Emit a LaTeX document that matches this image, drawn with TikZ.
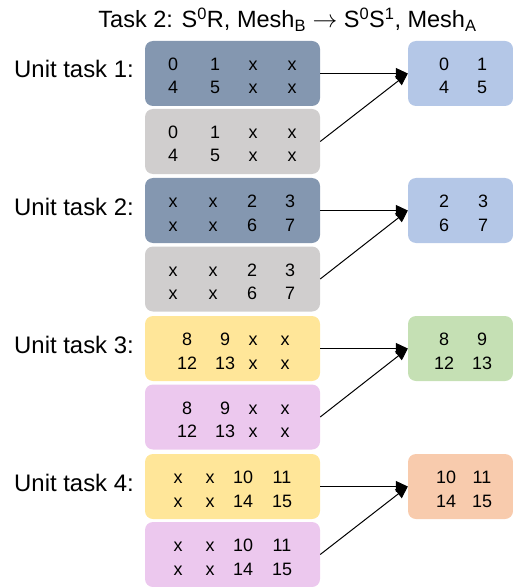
\documentclass[tikz,border=0pt]{standalone}
\usepackage{fontspec}
\setmainfont{Liberation Sans}
\usetikzlibrary{arrows.meta}
\definecolor{cdark}{HTML}{8497B0}
\definecolor{cgray}{HTML}{D0CECE}
\definecolor{clblue}{HTML}{B4C7E7}
\definecolor{cyellow}{HTML}{FFE699}
\definecolor{cpink}{HTML}{ECC8EE}
\definecolor{cgreen}{HTML}{C5E0B4}
\definecolor{corange}{HTML}{F8CBAD}
\tikzset{
  leftbox/.style={rounded corners=8bp, inner sep=0, minimum width=175bp, minimum height=65bp},
  rightbox/.style={rounded corners=8bp, inner sep=0, minimum width=105bp, minimum height=65bp},
  num/.style={anchor=base, inner sep=0, font=\fontsize{18}{20}\selectfont},
  lab/.style={anchor=base west, inner sep=0, font=\fontsize{24}{28}\selectfont},
  ttl/.style={anchor=base, inner sep=0, font=\fontsize{23.6}{27}\selectfont},
  conn/.style={-{Triangle[length=12bp,width=11bp]}, line width=1bp, black},
}
\begin{document}
\begin{tikzpicture}[x=1bp,y=-1bp]
\useasboundingbox (0,0) rectangle (513,587);
% title
\node[ttl] (title) at (287.5,28) {Task 2: S\textsuperscript{0}R, Mesh\textsubscript{B} $\rightarrow$ S\textsuperscript{0}S\textsuperscript{1}, Mesh\textsubscript{A}};
% labels
\node[lab] (u1) at (14,78) {Unit task 1:};
\node[lab] (u2) at (14,215) {Unit task 2:};
\node[lab] (u3) at (14,353) {Unit task 3:};
\node[lab] (u4) at (14,491) {Unit task 4:};
% left boxes
\node[leftbox, fill=cdark]   (L1) at (232.5,73.5) {};
\node[leftbox, fill=cgray]   (L2) at (232.5,141.5) {};
\node[leftbox, fill=cdark]   (L3) at (232.5,210.5) {};
\node[leftbox, fill=cgray]   (L4) at (232.5,279) {};
\node[leftbox, fill=cyellow] (L5) at (232.5,348.5) {};
\node[leftbox, fill=cpink]   (L6) at (232.5,417) {};
\node[leftbox, fill=cyellow] (L7) at (232.5,486.5) {};
\node[leftbox, fill=cpink]   (L8) at (232.5,554.5) {};
% right boxes
\node[rightbox, fill=clblue]  (R1) at (460.5,73.5) {};
\node[rightbox, fill=clblue]  (R2) at (460.5,210.5) {};
\node[rightbox, fill=cgreen]  (R3) at (460.5,348.5) {};
\node[rightbox, fill=corange] (R4) at (460.5,486.5) {};
% numbers left
\foreach \t/\c [count=\i] in {0/173,1/215,x/253,x/292} \node[num] (La\i) at (\c,70.5) {\t};
\foreach \t/\c [count=\i] in {4/173,5/215,x/253,x/292} \node[num] (Lb\i) at (\c,94) {\t};
\foreach \t/\c [count=\i] in {0/173,1/215,x/253,x/292} \node[num] (Lc\i) at (\c,138.5) {\t};
\foreach \t/\c [count=\i] in {4/173,5/215,x/253,x/292} \node[num] (Ld\i) at (\c,162) {\t};
\foreach \t/\c [count=\i] in {x/173,x/213,2/252,3/290} \node[num] (Le\i) at (\c,207.5) {\t};
\foreach \t/\c [count=\i] in {x/173,x/213,6/252,7/290} \node[num] (Lf\i) at (\c,231) {\t};
\foreach \t/\c [count=\i] in {x/173,x/213,2/252,3/290} \node[num] (Lg\i) at (\c,276) {\t};
\foreach \t/\c [count=\i] in {x/173,x/213,6/252,7/290} \node[num] (Lh\i) at (\c,299.5) {\t};
\foreach \t/\c [count=\i] in {8/187,9/225,x/253,x/285} \node[num] (Li\i) at (\c,345.5) {\t};
\foreach \t/\c [count=\i] in {12/187,13/225,x/253,x/285} \node[num] (Lj\i) at (\c,369) {\t};
\foreach \t/\c [count=\i] in {8/187,9/225,x/253,x/285} \node[num] (Lk\i) at (\c,414) {\t};
\foreach \t/\c [count=\i] in {12/187,13/225,x/253,x/285} \node[num] (Ll\i) at (\c,437.5) {\t};
\foreach \t/\c [count=\i] in {x/178,x/210,10/243,11/282} \node[num] (Lm\i) at (\c,483.5) {\t};
\foreach \t/\c [count=\i] in {x/178,x/210,14/243,15/282} \node[num] (Ln\i) at (\c,507) {\t};
\foreach \t/\c [count=\i] in {x/178,x/210,10/243,11/282} \node[num] (Lo\i) at (\c,551.5) {\t};
\foreach \t/\c [count=\i] in {x/178,x/210,14/243,15/282} \node[num] (Lp\i) at (\c,575) {\t};
% numbers right
\foreach \t/\c [count=\i] in {0/444,1/482} \node[num] (Ra\i) at (\c,70.5) {\t};
\foreach \t/\c [count=\i] in {4/444,5/482} \node[num] (Rb\i) at (\c,94) {\t};
\foreach \t/\c [count=\i] in {2/444,3/483} \node[num] (Rc\i) at (\c,207.5) {\t};
\foreach \t/\c [count=\i] in {6/444,7/483} \node[num] (Rd\i) at (\c,231) {\t};
\foreach \t/\c [count=\i] in {8/444,9/482} \node[num] (Re\i) at (\c,345.5) {\t};
\foreach \t/\c [count=\i] in {12/444,13/482} \node[num] (Rf\i) at (\c,369) {\t};
\foreach \t/\c [count=\i] in {10/446,11/482} \node[num] (Rg\i) at (\c,483.5) {\t};
\foreach \t/\c [count=\i] in {14/446,15/482} \node[num] (Rh\i) at (\c,507) {\t};
% connectors
\draw[conn] (L1.east) -- (R1.west);
\draw[conn] (L2.east) -- (R1.west);
\draw[conn] (L3.east) -- (R2.west);
\draw[conn] (L4.east) -- (R2.west);
\draw[conn] (L5.east) -- (R3.west);
\draw[conn] (L6.east) -- (R3.west);
\draw[conn] (L7.east) -- (R4.west);
\draw[conn] (L8.east) -- (R4.west);
\end{tikzpicture}
\end{document}
